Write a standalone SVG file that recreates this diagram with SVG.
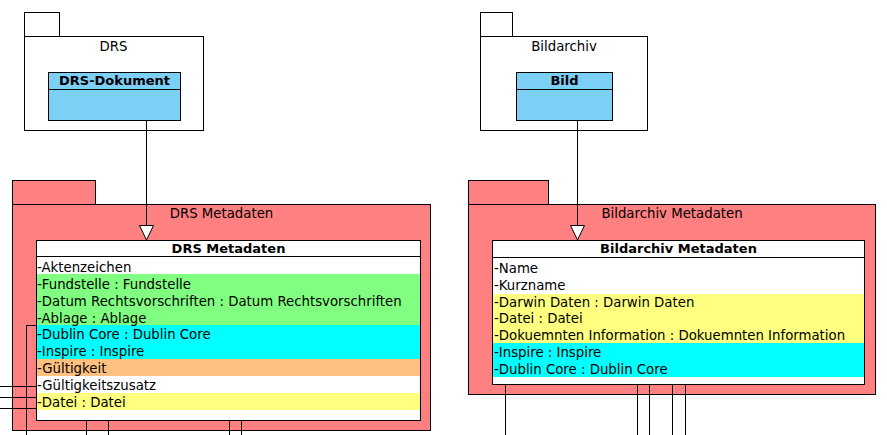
<svg xmlns="http://www.w3.org/2000/svg" width="887" height="435" viewBox="0 0 887 435">
<defs>
<style>
text{font-family:"DejaVu Sans","Liberation Sans",sans-serif;font-size:13.3px;fill:#000}
.pkg{stroke:#000;stroke-width:1}
.b{font-weight:bold;font-size:13px}
.m{text-anchor:middle}
.ln{stroke:#000;stroke-width:1;fill:none}
.box{stroke:#000;stroke-width:1}
</style>
<marker id="tri" markerWidth="16" markerHeight="16" refX="15" refY="7.5" markerUnits="userSpaceOnUse" orient="auto" viewBox="0 0 16 16">
<path d="M0.5,0.5 L15,7.5 L0.5,14.5 Z" fill="#fff" stroke="#000" stroke-width="1"/>
</marker>
</defs>
<rect width="887" height="435" fill="#fff"/>

<g id="pkg-drs">
<rect class="pkg" x="24.5" y="12.5" width="35" height="24" fill="#fff"/>
<rect class="pkg" x="24.5" y="36.5" width="179" height="94" fill="#fff"/>
<text class="m" x="113.5" y="51">DRS</text>
</g>
<g id="cls-drs-dokument">
<rect class="box" x="48.5" y="72.5" width="132" height="48" fill="#7ccff5"/>
<line class="ln" x1="48.5" y1="89.5" x2="180.5" y2="89.5"/>
<text class="m b" x="114.5" y="85">DRS-Dokument</text>
</g>

<g id="pkg-bildarchiv">
<rect class="pkg" x="480.5" y="12.5" width="32" height="24" fill="#fff"/>
<rect class="pkg" x="480.5" y="36.5" width="167" height="94" fill="#fff"/>
<text class="m" x="564" y="51">Bildarchiv</text>
</g>
<g id="cls-bild">
<rect class="box" x="516.5" y="72.5" width="96" height="48" fill="#7ccff5"/>
<line class="ln" x1="516.5" y1="89.5" x2="612.5" y2="89.5"/>
<text class="m b" x="564.5" y="85">Bild</text>
</g>

<g id="pkg-drs-metadaten">
<rect class="pkg" x="12.5" y="180.5" width="83" height="24" fill="#ff8080"/>
<rect class="pkg" x="12.5" y="204.5" width="418" height="226" fill="#ff8080"/>
<text class="m" x="221.5" y="218">DRS Metadaten</text>
</g>
<g id="cls-drs-metadaten">
<rect x="36.5" y="240.5" width="384" height="180" fill="#fff"/>
<rect x="37" y="274" width="383" height="51" fill="#80ff80"/>
<rect x="37" y="325" width="383" height="34" fill="#00ffff"/>
<rect x="37" y="359" width="383" height="17" fill="#ffc080"/>
<rect x="37" y="393" width="383" height="17" fill="#ffff80"/>
<rect class="box" x="36.5" y="240.5" width="384" height="180" fill="none"/>
<line class="ln" x1="36.5" y1="256.5" x2="420.5" y2="256.5"/>
<text class="m b" x="228.5" y="253">DRS Metadaten</text>
<text x="37" y="272">-Aktenzeichen</text>
<text x="37" y="289">-Fundstelle : Fundstelle</text>
<text x="37" y="306">-Datum Rechtsvorschriften : Datum Rechtsvorschriften</text>
<text x="37" y="323">-Ablage : Ablage</text>
<text x="37" y="339">-Dublin Core : Dublin Core</text>
<text x="37" y="356">-Inspire : Inspire</text>
<text x="37" y="373">-Gültigkeit</text>
<text x="37" y="390">-Gültigkeitszusatz</text>
<text x="37" y="407">-Datei : Datei</text>
</g>

<g id="pkg-bildarchiv-metadaten">
<rect class="pkg" x="468.5" y="180.5" width="80" height="24" fill="#ff8080"/>
<rect class="pkg" x="468.5" y="204.5" width="407" height="190" fill="#ff8080"/>
<text class="m" x="672" y="218">Bildarchiv Metadaten</text>
</g>
<g id="cls-bildarchiv-metadaten">
<rect x="492.5" y="240.5" width="372" height="144" fill="#fff"/>
<rect x="493" y="294" width="371" height="49" fill="#ffff80"/>
<rect x="493" y="343" width="371" height="34" fill="#00ffff"/>
<rect class="box" x="492.5" y="240.5" width="372" height="144" fill="none"/>
<line class="ln" x1="492.5" y1="257.5" x2="864.5" y2="257.5"/>
<text class="m b" x="678.5" y="253">Bildarchiv Metadaten</text>
<text x="494" y="273">-Name</text>
<text x="494" y="290">-Kurzname</text>
<text x="494" y="307">-Darwin Daten : Darwin Daten</text>
<text x="494" y="323">-Datei : Datei</text>
<text x="494" y="340">-Dokuemnten Information : Dokuemnten Information</text>
<text x="494" y="357">-Inspire : Inspire</text>
<text x="494" y="374">-Dublin Core : Dublin Core</text>
</g>

<g id="connectors">
<path class="ln" d="M146.5,121 V240" marker-end="url(#tri)"/>
<path class="ln" d="M577.5,121 V240" marker-end="url(#tri)"/>
<path class="ln" d="M36,325.5 H26.5 V435"/>
<path class="ln" d="M0,386.5 H36"/>
<path class="ln" d="M0,397.5 H36"/>
<path class="ln" d="M0,408.5 H36"/>
<path class="ln" d="M86.5,421 V435"/>
<path class="ln" d="M108.5,421 V435"/>
<path class="ln" d="M229.5,421 V435"/>
<path class="ln" d="M241.5,421 V435"/>
<path class="ln" d="M505.5,385 V435"/>
<path class="ln" d="M637.5,385 V435"/>
<path class="ln" d="M649.5,385 V435"/>
<path class="ln" d="M672.5,385 V435"/>
<path class="ln" d="M685.5,385 V435"/>
</g>
</svg>
